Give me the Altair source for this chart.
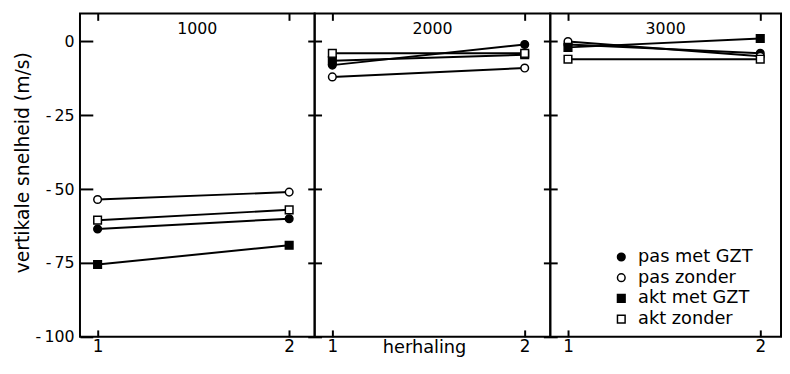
import altair as alt
import pandas as pd

# ---- data ----
conditions = ["1000", "2000", "3000"]
series = ["pas met GZT", "pas zonder", "akt met GZT", "akt zonder"]
herhaling = [1, 2]
pas_met_gzt = {"1000": [-63.5, -60.0], "2000": [-8.0, -1.0], "3000": [-1.0, -4.0]}
pas_zonder = {"1000": [-53.5, -51.0], "2000": [-12.0, -9.0], "3000": [0.0, -5.0]}
akt_met_gzt = {"1000": [-75.5, -69.0], "2000": [-6.5, -4.5], "3000": [-2.0, 1.0]}
akt_zonder = {"1000": [-60.5, -57.0], "2000": [-4.0, -4.0], "3000": [-6.0, -6.0]}
y_ticks = [0, -25, -50, -75, -100]
x_ticks = [1, 2]

rows = []
for s, vals in zip(series, [pas_met_gzt, pas_zonder, akt_met_gzt, akt_zonder]):
    for c in conditions:
        for h, v in zip(herhaling, vals[c]):
            rows.append({"cond": c, "series": s, "herhaling": h, "v": v})
df = pd.DataFrame(rows)

FONT = "DejaVu Sans"
H = 328
widths = [238, 239, 234]
xmax = [2.133, 2.133, 2.108]

legend = alt.Legend(title=None, orient="none", legendX=540, legendY=238,
                    labelFont=FONT, labelFontSize=18, labelColor="black",
                    symbolSize=60, symbolStrokeColor="black", symbolStrokeWidth=1.5,
                    rowPadding=3, labelOffset=8)
shape_enc = alt.Shape("series:N", scale=alt.Scale(domain=series,
                      range=["circle", "circle", "square", "square"]), legend=legend)
fill_enc = alt.Fill("series:N", scale=alt.Scale(domain=series,
                    range=["black", "white", "black", "white"]), legend=legend)
stroke_enc = alt.Stroke("series:N", scale=alt.Scale(domain=series,
                        range=["black", "black", "black", "black"]), legend=legend)


def panel(i, c):
    w = widths[i]
    xscale = alt.Scale(domain=[0.908, xmax[i]], nice=False, zero=False)
    yscale = alt.Scale(domain=[-100, 9.5], nice=False, zero=False)
    base = alt.Chart(df).transform_filter(alt.datum.cond == c)

    bottom_kw = dict(values=x_ticks, orient="bottom", offset=-7, tickSize=7, domain=False,
                     grid=False, format="d", labelPadding=2, labelFontSize=17,
                     labelFont=FONT, labelColor="black", tickColor="black", tickWidth=2)
    if i == 1:
        bottom_kw.update(title="herhaling", titleFont=FONT, titleFontSize=18,
                         titleFontWeight="normal", titleColor="black", titleX=111,
                         titleY=23, titleBaseline="alphabetic")
    else:
        bottom_kw.update(title=None)

    first = i == 0
    left_kw = dict(values=y_ticks, orient="left", offset=-13 if first else -7,
                   tickSize=13 if first else 14, domain=False, grid=False,
                   labels=first, labelPadding=6, labelFontSize=16, labelFont=FONT,
                   labelColor="black", tickColor="black", tickWidth=2,
                   labelExpr="datum.value < 0 ? '-\u2009' + abs(datum.value) : '' + datum.value")
    if first:
        left_kw.update(title="vertikale snelheid (m/s)", titleFont=FONT, titleFontSize=19,
                       titleFontWeight="normal", titleColor="black", titlePadding=3,
                       titleY=151)
    else:
        left_kw.update(title=None)

    lines = base.mark_line(color="black", strokeWidth=2).encode(
        x=alt.X("herhaling:Q", scale=xscale, axis=alt.Axis(**bottom_kw)),
        y=alt.Y("v:Q", scale=yscale, axis=alt.Axis(**left_kw)),
        detail="series:N",
    )

    points = base.mark_point(strokeWidth=1.5, size=60, opacity=1, fillOpacity=1).encode(
        x=alt.X("herhaling:Q", scale=xscale,
                axis=alt.Axis(values=x_ticks, orient="top", offset=-7, tickSize=7,
                              domain=False, grid=False, labels=False, title=None,
                              tickColor="black", tickWidth=2)),
        y=alt.Y("v:Q", scale=yscale, axis=None),
        shape=shape_enc,
        fill=fill_enc,
        stroke=stroke_enc,
    )

    header = alt.Chart(pd.DataFrame({"cond": [c]})).mark_text(
        font=FONT, fontSize=16, color="black", baseline="alphabetic"
    ).encode(text="cond:N", x=alt.value(w / 2), y=alt.value(21))

    return alt.layer(lines, points, header).resolve_axis(
        x="independent", y="independent").properties(width=w, height=H)


chart = alt.hconcat(
    *[panel(i, c) for i, c in enumerate(conditions)], spacing=0, bounds="flush"
).properties(
    background="white", padding={"left": 4, "top": 1, "right": 0, "bottom": 0}
).configure_view(stroke="black", strokeWidth=2)

chart.save("out.html", embed_options={"renderer": "svg", "actions": False})
